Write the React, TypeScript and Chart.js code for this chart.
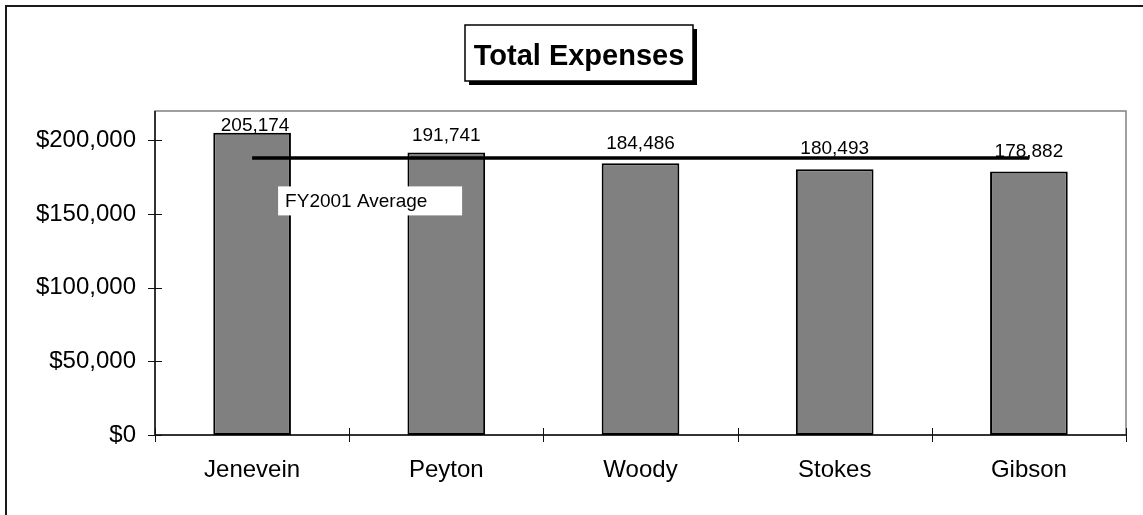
import React, { useEffect, useRef } from "react";
import { Chart, registerables } from "chart.js";

Chart.register(...registerables);

const categories = ["Jenevein", "Peyton", "Woody", "Stokes", "Gibson"];
const expenses = [205174, 191741, 184486, 180493, 178882];
const averageValues = [188155, 188155, 188155, 188155, 188155];
const yTickValues = [0, 50000, 100000, 150000, 200000];
const chartTitle = "Total Expenses";
const averageLabel = "FY2001 Average";

const FONT = "'Liberation Sans', Arial, Helvetica, sans-serif";

const fmt = (v: number) => v.toLocaleString("en-US");

const decorPlugin = {
  id: "decor",
  beforeDatasetsDraw(chart: any) {
    const { ctx, chartArea: a, scales } = chart;
    const x = scales.x;
    const y = scales.y;
    ctx.save();
    // outer frame
    ctx.strokeStyle = "#1a1a1a";
    ctx.lineWidth = 2;
    ctx.strokeRect(6, 6, 1400, 800);
    // plot border (gray)
    ctx.strokeStyle = "#808080";
    ctx.lineWidth = 1.5;
    ctx.strokeRect(a.left, a.top, a.right - a.left, a.bottom - a.top);
    // axes (black)
    ctx.strokeStyle = "#111";
    ctx.lineWidth = 1.5;
    ctx.beginPath();
    ctx.moveTo(a.left, a.top);
    ctx.lineTo(a.left, a.bottom);
    ctx.lineTo(a.right, a.bottom);
    ctx.stroke();
    // y ticks (cross)
    ctx.lineWidth = 1;
    yTickValues.forEach((v) => {
      const py = Math.round(y.getPixelForValue(v)) + 0.5;
      ctx.beginPath();
      ctx.moveTo(a.left - 7, py);
      ctx.lineTo(a.left + 7, py);
      ctx.stroke();
    });
    // x ticks at category boundaries
    const n = categories.length;
    const step = x.getPixelForValue(1) - x.getPixelForValue(0);
    for (let i = 0; i <= n; i++) {
      const px = Math.round(x.getPixelForValue(0) - step / 2 + i * step) + 0.5;
      ctx.beginPath();
      ctx.moveTo(px, a.bottom - 7);
      ctx.lineTo(px, a.bottom + 7);
      ctx.stroke();
    }
    ctx.restore();
  },
  afterDatasetsDraw(chart: any, _args: any, opts: any) {
    const { ctx } = chart;
    ctx.save();
    // bar value labels
    const barMeta = chart.getDatasetMeta(1);
    ctx.fillStyle = "#000";
    ctx.font = `19px ${FONT}`;
    ctx.textAlign = "center";
    ctx.textBaseline = "alphabetic";
    barMeta.data.forEach((el: any, i: number) => {
      const off = (opts.labelGaps && opts.labelGaps[i]) || 12;
      ctx.fillText(fmt(expenses[i]), el.x + (i === 0 ? 3 : 0), el.y - off);
    });
    // average label box
    const lineMeta = chart.getDatasetMeta(0);
    const p0 = lineMeta.data[0];
    const bx = p0.x + 26;
    const by = p0.y + 28.5;
    ctx.fillStyle = "#fff";
    ctx.fillRect(bx, by, 184, 29);
    ctx.fillStyle = "#000";
    ctx.textAlign = "left";
    ctx.fillText(averageLabel, bx + 7, by + 21);
    ctx.restore();
  },
  afterDraw(chart: any) {
    const { ctx } = chart;
    ctx.save();
    const l = 465, t = 25, w = 228, h = 56;
    ctx.fillStyle = "#000";
    ctx.fillRect(l + 4, t + 4, w, h);
    ctx.fillStyle = "#fff";
    ctx.fillRect(l, t, w, h);
    ctx.strokeStyle = "#000";
    ctx.lineWidth = 1.5;
    ctx.strokeRect(l, t, w, h);
    ctx.fillStyle = "#000";
    ctx.font = `bold 29px ${FONT}`;
    ctx.textAlign = "center";
    ctx.textBaseline = "alphabetic";
    ctx.fillText(chartTitle, l + w / 2, 65);
    ctx.restore();
  },
};

export default function App() {
  const ref = useRef<HTMLCanvasElement | null>(null);
  useEffect(() => {
    if (!ref.current) return;
    const chart = new Chart(ref.current, {
      type: "bar",
      data: {
        labels: categories,
        datasets: [
          {
            type: "line",
            label: averageLabel,
            data: averageValues,
            borderColor: "#000",
            borderWidth: 3.5,
            pointRadius: 0,
            fill: false,
            order: 0,
          } as any,
          {
            type: "bar",
            label: chartTitle,
            data: expenses,
            backgroundColor: "#808080",
            borderColor: "#000",
            borderWidth: 2,
            borderSkipped: false,
            categoryPercentage: 1,
            barPercentage: 0.4,
            order: 1,
          } as any,
        ],
      },
      options: {
        responsive: false,
        animation: false,
        devicePixelRatio: 1,
        layout: { padding: { left: 0, top: 111, right: 17, bottom: 0 } },
        plugins: {
          legend: { display: false },
          tooltip: { enabled: false },
          title: { display: false },
          decor: { labelGaps: [2, 12, 14, 15, 15] },
        } as any,
        scales: {
          x: {
            type: "category",
            offset: true,
            grid: { display: false, drawTicks: false },
            border: { display: false },
            ticks: {
              color: "#000",
              font: { family: FONT, size: 24 },
              padding: 21,
              maxRotation: 0,
            },
            afterFit(scale: any) {
              scale.height = 80;
            },
          },
          y: {
            min: 0,
            max: 220000,
            grid: { display: false, drawTicks: false },
            border: { display: false },
            ticks: {
              stepSize: 50000,
              includeBounds: false,
              color: "#000",
              font: { family: FONT, size: 24 },
              padding: 19,
              callback: (v: any) => "$" + fmt(Number(v)),
            },
            afterBuildTicks(scale: any) {
              scale.ticks = yTickValues.map((v) => ({ value: v }));
            },
            afterFit(scale: any) {
              scale.width = 155;
            },
          },
        },
      } as any,
      plugins: [decorPlugin as any],
    });
    return () => chart.destroy();
  }, []);
  return (
    <div style={{ position: "absolute", left: 0, top: 0, width: 1143, height: 515, background: "#fff" }}>
      <canvas ref={ref} width={1143} height={515} style={{ display: "block", width: 1143, height: 515 }} />
    </div>
  );
}
